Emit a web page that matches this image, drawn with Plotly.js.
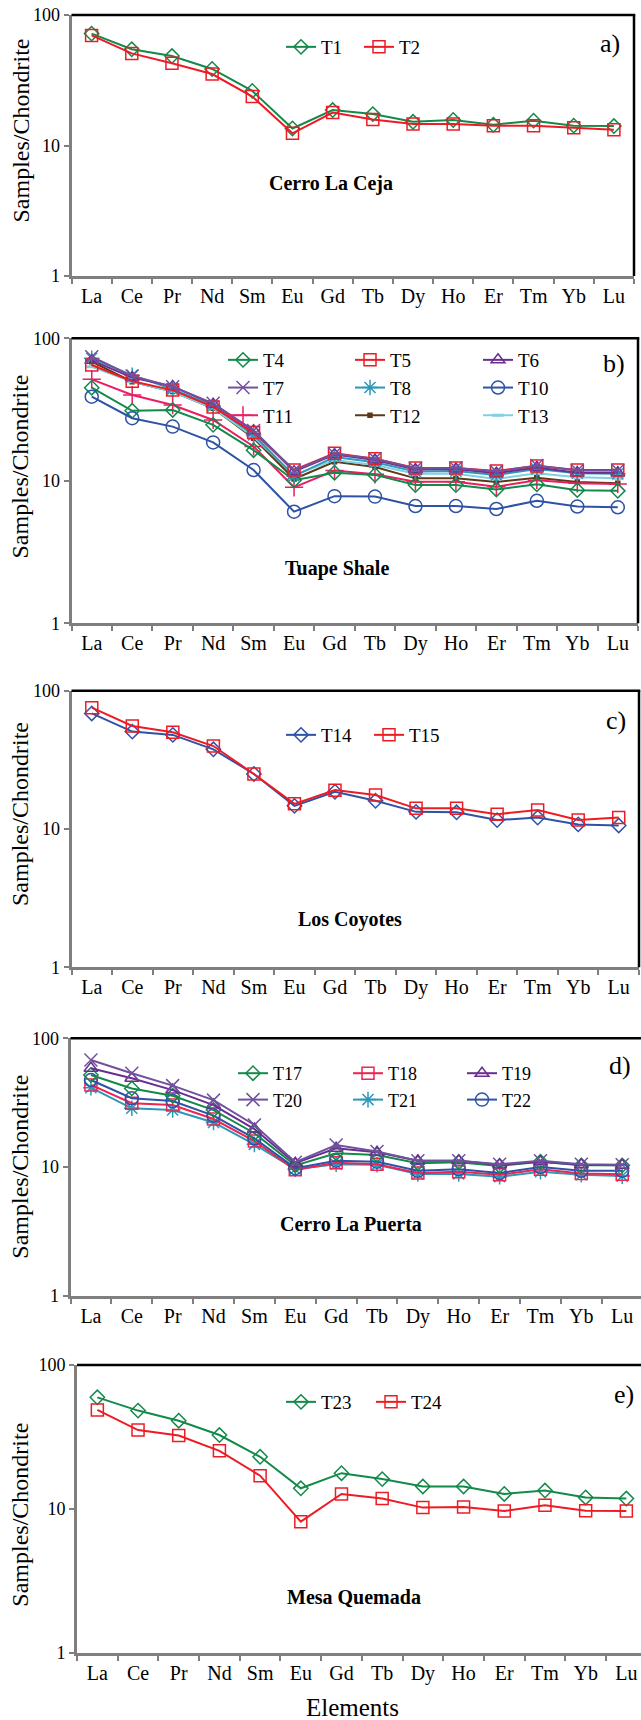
<!DOCTYPE html>
<html><head><meta charset="utf-8">
<script src="https://cdn.plot.ly/plotly-3.0.1.min.js"></script>
<style>html,body{margin:0;padding:0;background:#fff}#chart{width:641px;height:1720px}</style>
</head><body><div id="chart"></div>
<script>
// ---------- DATA ----------
const elements = ["La","Ce","Pr","Nd","Sm","Eu","Gd","Tb","Dy","Ho","Er","Tm","Yb","Lu"];
const yTickVals = [1, 10, 100];
const yTickText = ["1", "10", "100"];

// a) Cerro La Ceja
const T1 = [72, 54.6, 48.5, 38.6, 26.2, 13.5, 18.7, 17.4, 15.2, 15.7, 14.4, 15.5, 14.2, 14.1];
const T2 = [69.8, 50.8, 42.7, 35.3, 23.7, 12.4, 17.9, 15.8, 14.6, 14.6, 14.2, 14.2, 13.7, 13.2];
// b) Tuape Shale
const T4 = [45, 31, 31.4, 24.7, 16.4, 10.1, 11.4, 11.0, 9.33, 9.33, 8.7, 9.44, 8.6, 8.5];
const T5 = [65, 50, 43.3, 33, 21.8, 11.9, 15.6, 14.3, 12.3, 12.3, 11.7, 12.7, 11.9, 11.9];
const T6 = [70, 53, 46, 34.5, 22.5, 11.6, 15.3, 14.0, 12.0, 12.1, 11.3, 12.4, 11.4, 11.4];
const T7 = [74.3, 54.3, 45.7, 35, 22.5, 11.8, 15.4, 14.3, 12.2, 12.3, 11.6, 12.8, 11.8, 11.8];
const T8 = [72.4, 55, 44, 33.5, 21, 10.8, 14.7, 13.5, 11.6, 11.7, 11.0, 12.1, 11.3, 11.2];
const T10 = [38.9, 27.5, 24, 18.6, 11.9, 6.07, 7.8, 7.75, 6.65, 6.65, 6.34, 7.24, 6.6, 6.52];
const T11 = [51.5, 40, 34, 26.7, 17.4, 9.0, 11.8, 11.1, 9.86, 9.86, 9.1, 10.1, 9.6, 9.5];
const T12 = [68.5, 49.6, 42.3, 32.3, 19.9, 10.3, 13.6, 12.5, 10.4, 10.4, 9.8, 10.5, 9.8, 9.6];
const T13 = [63.2, 49.6, 42.3, 32.3, 20.3, 11, 14, 12.9, 11.2, 11.2, 10.3, 11.3, 10.6, 10.4];
// c) Los Coyotes
const T14 = [68.5, 50.6, 47.9, 37.7, 25, 14.7, 18.6, 16, 13.3, 13.2, 11.6, 12.1, 10.8, 10.6];
const T15 = [75.4, 55.6, 50, 39.8, 25, 15.2, 19.1, 17.6, 14.1, 14.1, 12.8, 13.7, 11.6, 12.1];
// d) Cerro La Puerta
const T17 = [51.9, 40.8, 35.8, 27.7, 18.3, 10.3, 12.8, 12.4, 10.7, 10.9, 10.2, 11.0, 10.3, 10.3];
const T18 = [43.4, 31.3, 30.3, 23.6, 15.9, 9.5, 10.8, 10.5, 9.0, 9.2, 8.7, 9.6, 8.9, 8.8];
const T19 = [58.5, 48.9, 39.6, 30.3, 19.7, 10.7, 14, 13.0, 11.2, 11.2, 10.4, 11.0, 10.4, 10.3];
const T20 = [67.8, 53.5, 42.9, 33.1, 21.2, 10.9, 14.8, 13.2, 11.2, 11.2, 10.5, 11.2, 10.5, 10.4];
const T21 = [41.3, 28.6, 27.7, 22.2, 15, 9.6, 10.5, 10.4, 8.83, 8.83, 8.4, 9.2, 8.7, 8.5];
const T22 = [47.4, 34.2, 32.6, 25.1, 16.7, 9.8, 11.2, 11, 9.35, 9.6, 9.0, 10.0, 9.35, 9.35];
// e) Mesa Quemada
const T23 = [59.6, 48.2, 41, 32.6, 23, 13.9, 17.7, 16.1, 14.3, 14.3, 12.7, 13.4, 12, 11.8];
const T24 = [48.7, 35.3, 32.3, 25.3, 17, 8.15, 12.7, 11.8, 10.2, 10.3, 9.66, 10.6, 9.7, 9.66];

const panelLabels = ["a)", "b)", "c)", "d)", "e)"];
const locations = ["Cerro La Ceja", "Tuape Shale", "Los Coyotes", "Cerro La Puerta", "Mesa Quemada"];
const yTitle = "Samples/Chondrite";
const xTitle = "Elements";

// ---------- STYLE ----------
const W = 641, H = 1720;
const SERIF = "Liberation Serif";
const C = {
  green: "#13894A", red: "#ED1C24", blue: "#2E52A6", purple: "#6A2E91",
  violet: "#71519E", teal: "#2C98B8", pink: "#E91E63", brown: "#5B3A17",
  cyan: "#80CFE2", redpink: "#EE2452"
};
const px = v => v / W;
const py = v => 1 - v / H;

// panel geometry in pixels: [left, right, top(100), bottom(1), xmax]
const G = [
  [71.5, 634, 15, 276, 13.5],
  [71.5, 638, 338.3, 623.3, 13.5],
  [71.5, 639, 690.7, 967.3, 13.5],
  [70.5, 641, 1038.3, 1295.7, 13.46],
  [77, 641, 1365, 1652.7, 13.36]
];

const traces = [];
function add(panel, name, y, color, symbol, size, legend, extra) {
  const s = panel === 0 ? "" : String(panel + 1);
  const t = {
    type: "scatter", mode: "lines+markers", name: name,
    x: elements, y: y, xaxis: "x" + s, yaxis: "y" + s,
    line: { color: color, width: 2 },
    marker: { symbol: symbol, size: size, color: color, line: { color: color, width: 1.5 } },
    cliponaxis: false, legend: legend
  };
  if (extra) Object.assign(t.marker, extra);
  traces.push(t);
}
// a
add(0, "T1", T1, C.green, "diamond-open", 11, "legend");
add(0, "T2", T2, C.red, "square-open", 12, "legend2");
// b
add(1, "T12", T12, C.brown, "square", 4, "legend4");
add(1, "T13", T13, C.cyan, "line-ew-open", 8, "legend5", { line: { color: C.cyan, width: 3 } });
add(1, "T11", T11, C.pink, "cross-thin-open", 13, "legend3");
add(1, "T4", T4, C.green, "diamond-open", 11, "legend3");
add(1, "T10", T10, C.blue, "circle-open", 13, "legend5");
add(1, "T8", T8, C.teal, "asterisk-open", 13, "legend4");
add(1, "T6", T6, C.purple, "triangle-up-open", 12, "legend5");
add(1, "T5", T5, C.red, "square-open", 12, "legend4");
add(1, "T7", T7, C.violet, "x-thin-open", 13, "legend3");
// c
add(2, "T14", T14, C.blue, "diamond-open", 11, "legend6");
add(2, "T15", T15, C.red, "square-open", 12, "legend7");
// d
add(3, "T21", T21, C.teal, "asterisk-open", 13, "legend9");
add(3, "T18", T18, C.redpink, "square-open", 12, "legend9");
add(3, "T22", T22, C.blue, "circle-open", 13, "legend10");
add(3, "T17", T17, C.green, "diamond-open", 11, "legend8");
add(3, "T19", T19, C.purple, "triangle-up-open", 12, "legend10");
add(3, "T20", T20, C.violet, "x-thin-open", 13, "legend8");
// e
add(4, "T23", T23, C.green, "diamond-open", 11, "legend11");
add(4, "T24", T24, C.red, "square-open", 12, "legend12");

// legend order within each column
const order = {T4:0,T7:1,T11:2,T5:0,T8:1,T12:2,T6:0,T10:1,T13:2,T17:0,T20:1,T18:0,T21:1,T19:0,T22:1};
traces.forEach(t => { if (order[t.name] !== undefined) t.legendrank = order[t.name] + 1; });

const layout = {
  width: W, height: H, margin: { l: 0, r: 0, t: 0, b: 0 },
  paper_bgcolor: "#fff", plot_bgcolor: "#fff",
  font: { family: SERIF, color: "#000" },
  showlegend: true, annotations: [], shapes: []
};

G.forEach((g, i) => {
  const s = i === 0 ? "" : String(i + 1);
  layout["xaxis" + s] = {
    domain: [px(g[0]), Math.min(1, px(g[1]))], anchor: "y" + s,
    type: "category", categoryarray: elements, range: [-0.5, g[4]],
    showline: true, linecolor: "#7F7F7F", linewidth: 3,
    ticks: "outside", tickson: "boundaries", ticklen: 5, tickwidth: 2, tickcolor: "#7F7F7F",
    tickfont: { family: SERIF, size: 20, color: "#000" }, showgrid: false, zeroline: false,
    fixedrange: true
  };
  layout["yaxis" + s] = {
    domain: [py(g[3]), py(g[2])], anchor: "x" + s,
    type: "log", range: [0, 2], tickvals: yTickVals, ticktext: yTickText,
    showline: true, linecolor: "#7F7F7F", linewidth: 3,
    ticks: "outside", ticklen: 5, tickwidth: 2, tickcolor: "#7F7F7F",
    tickfont: { family: SERIF, size: 18, color: "#000" }, showgrid: false, zeroline: false,
    fixedrange: true
  };
  // black top and right frame
  layout.shapes.push({ type: "line", xref: "paper", yref: "paper", x0: px(g[0]), x1: Math.min(1, px(g[1]) + 0.002), y0: py(g[2]), y1: py(g[2]), line: { color: "#000", width: 2.5 } });
  if (g[1] < 640) layout.shapes.push({ type: "line", xref: "paper", yref: "paper", x0: px(g[1]), x1: px(g[1]), y0: py(g[2]), y1: py(g[3]), line: { color: "#000", width: 2.5 } });
});

// panel letters, location names, y titles
const letterPos = [[610, 43], [614, 363], [616, 720], [620, 1065], [624, 1394]];
const locPos = [[331, 183], [337, 569], [350, 920], [351, 1224], [354, 1597]];
const yTitlePos = [130.5, 466.5, 814, 1166.7, 1514.7];
for (let i = 0; i < 5; i++) {
  layout.annotations.push({ xref: "paper", yref: "paper", x: px(letterPos[i][0]), y: py(letterPos[i][1]), text: panelLabels[i], showarrow: false, xanchor: "center", yanchor: "middle", font: { family: SERIF, size: 26, color: "#000" } });
  layout.annotations.push({ xref: "paper", yref: "paper", x: px(locPos[i][0]), y: py(locPos[i][1]), text: "<b>" + locations[i] + "</b>", showarrow: false, xanchor: "center", yanchor: "middle", font: { family: SERIF, size: 20, color: "#000" } });
  layout.annotations.push({ xref: "paper", yref: "paper", x: px(20), y: py(yTitlePos[i]), text: yTitle, textangle: -90, showarrow: false, xanchor: "center", yanchor: "middle", font: { family: SERIF, size: 24, color: "#000" } });
}
layout.annotations.push({ xref: "paper", yref: "paper", x: px(352), y: py(1707), text: xTitle, showarrow: false, xanchor: "center", yanchor: "middle", font: { family: SERIF, size: 25, color: "#000" } });

// legends (one per column)
const legPos = {
  legend: [281, 28], legend2: [359, 28],
  legend3: [223, 341], legend4: [350, 341], legend5: [478, 341],
  legend6: [281, 716], legend7: [369, 716],
  legend8: [233, 1055], legend9: [348, 1055], legend10: [462, 1055],
  legend11: [281, 1383], legend12: [371, 1383]
};
Object.keys(legPos).forEach(k => {
  const fs = (k === "legend8" || k === "legend9" || k === "legend10") ? 18 : 19;
  layout[k] = {
    x: px(legPos[k][0]), y: py(legPos[k][1]), xanchor: "left", yanchor: "top",
    bgcolor: "rgba(0,0,0,0)", borderwidth: 0, orientation: "v",
    font: { family: SERIF, size: fs, color: "#000" }, tracegroupgap: 0, itemwidth: 30,
    traceorder: "normal"
  };
});

Plotly.newPlot("chart", traces, layout, { staticPlot: true, displayModeBar: false });
</script></body></html>
